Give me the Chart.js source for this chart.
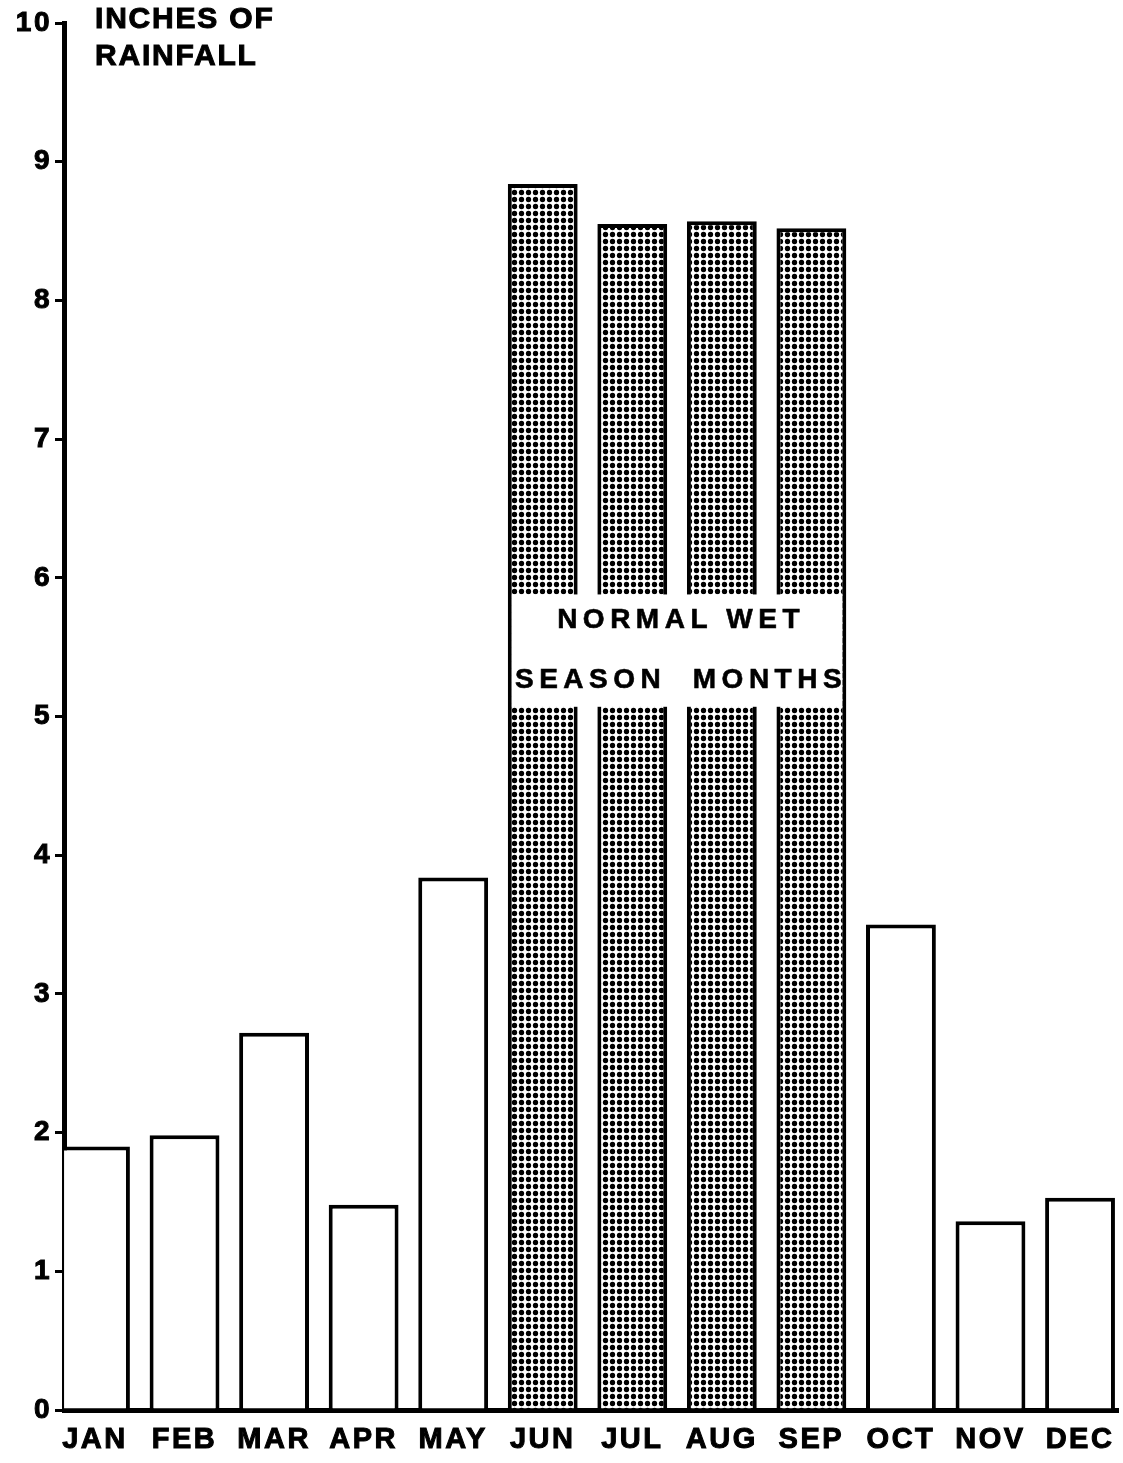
<!DOCTYPE html>
<html>
<head>
<meta charset="utf-8">
<script src="https://cdn.jsdelivr.net/npm/chart.js@4/dist/chart.umd.min.js"></script>
<style>
  html, body { margin: 0; padding: 0; background: #fff; }
  #wrap { width: 1123px; height: 1463px; }
</style>
</head>
<body>
<div id="wrap"><canvas id="c" width="1123" height="1463"></canvas></div>
<script>
const months = ['JAN','FEB','MAR','APR','MAY','JUN','JUL','AUG','SEP','OCT','NOV','DEC'];
const rainfall = [1.90, 1.98, 2.72, 1.48, 3.84, 8.84, 8.55, 8.57, 8.52, 3.50, 1.36, 1.53];
const wetSeason = [false, false, false, false, false, true, true, true, true, false, false, false];
const yTickValues = [0,1,2,3,4,5,6,7,8,9,10];
const axisTitle = ['INCHES OF', 'RAINFALL'];
const noteLines = ['NORMAL WET', 'SEASON  MONTHS'];
const noteRange = [5.07, 5.88];

const canvas = document.getElementById('c');
const ctx = canvas.getContext('2d');
const FONT = '"Liberation Sans", Arial, Helvetica, sans-serif';

function makeDots() {
  const t = document.createElement('canvas');
  t.width = 7; t.height = 7;
  const g = t.getContext('2d');
  g.fillStyle = '#fff'; g.fillRect(0, 0, 7, 7);
  g.fillStyle = '#000';
  g.beginPath(); g.arc(3.5, 3.5, 2.65, 0, Math.PI * 2); g.fill();
  return ctx.createPattern(t, 'repeat');
}
const dots = makeDots();

const points = months.map((m, i) => ({ x: i, y: rainfall[i] }));

const spacing = {
  id: 'spacing',
  beforeLayout(chart) { chart.ctx.letterSpacing = '2.5px'; },
  beforeDraw(chart) { chart.ctx.letterSpacing = '2.5px'; }
};

function heavyText(c, s, x, y) {
  c.fillText(s, x, y);
  c.strokeText(s, x, y);
}

const annotate = {
  id: 'annotate',
  afterDatasetsDraw(chart) {
    const c = chart.ctx;
    const ys = chart.scales.y;
    const meta = chart.getDatasetMeta(0);
    const idx = wetSeason.map((w, i) => w ? i : -1).filter(i => i >= 0);
    const first = meta.data[idx[0]], last = meta.data[idx[idx.length - 1]];
    const bw = 4;
    const x0 = first.x - first.width / 2 + bw;
    const x1 = last.x + last.width / 2 - bw;
    const yTop = ys.getPixelForValue(noteRange[1]);
    const yBot = ys.getPixelForValue(noteRange[0]);
    c.save();
    c.fillStyle = '#fff';
    c.fillRect(x0, yTop, x1 - x0, yBot - yTop);
    c.fillStyle = '#000';
    c.strokeStyle = '#000';
    c.lineWidth = 0.6;
    c.font = 'bold 28px ' + FONT;
    c.textAlign = 'center';
    c.textBaseline = 'middle';
    c.letterSpacing = '5.5px';
    const cx = (x0 + x1) / 2 + 4;
    heavyText(c, noteLines[0], cx, yTop + (yBot - yTop) * 0.23);
    heavyText(c, noteLines[1], cx, yTop + (yBot - yTop) * 0.76);
    c.restore();
  },
  afterDraw(chart) {
    const c = chart.ctx;
    const a = chart.chartArea;
    c.save();
    c.fillStyle = '#000';
    c.strokeStyle = '#000';
    c.lineWidth = 1;
    c.font = 'bold 30px ' + FONT;
    c.letterSpacing = '1.8px';
    c.textAlign = 'left';
    c.textBaseline = 'top';
    heavyText(c, axisTitle[0], a.left + 31, a.top - 18);
    heavyText(c, axisTitle[1], a.left + 31, a.top + 19);
    c.restore();
  }
};

new Chart(canvas, {
  type: 'bar',
  data: {
    datasets: [{
      data: points,
      backgroundColor: wetSeason.map(w => w ? dots : '#fff'),
      borderColor: '#000',
      borderWidth: 4,
      borderSkipped: 'bottom',
      barPercentage: 0.78,
      categoryPercentage: 1.0
    }]
  },
  options: {
    responsive: false,
    animation: false,
    devicePixelRatio: 1,
    layout: { padding: { top: 23, right: 5, left: 0, bottom: 0 } },
    plugins: { legend: { display: false }, tooltip: { enabled: false }, title: { display: false } },
    scales: {
      x: {
        type: 'linear',
        offset: false,
        min: -0.346,
        max: 11.424,
        afterFit(s) { s.height = 53; s.paddingLeft = 0; s.paddingRight = 0; },
        grid: { display: false, drawTicks: false },
        border: { display: true, color: '#000', width: 5 },
        ticks: {
          stepSize: 1,
          includeBounds: false,
          autoSkip: false,
          maxRotation: 0,
          padding: 13,
          color: '#000',
          textStrokeColor: '#000',
          textStrokeWidth: 1,
          font: { family: FONT, size: 29, weight: 'bold' },
          callback: v => months[v] !== undefined && Number.isInteger(v) ? months[v] : ''
        }
      },
      y: {
        min: yTickValues[0],
        max: yTickValues[yTickValues.length - 1],
        afterFit(s) { s.width = 64; },
        afterBuildTicks(s) { s.ticks = yTickValues.map(v => ({ value: v })); },
        grid: { display: true, drawOnChartArea: false, drawTicks: true, tickLength: 9, color: '#000', lineWidth: 3 },
        border: { display: true, color: '#000', width: 5 },
        ticks: {
          padding: 3,
          color: '#000',
          textStrokeColor: '#000',
          textStrokeWidth: 1,
          font: { family: FONT, size: 28, weight: 'bold' }
        }
      }
    }
  },
  plugins: [spacing, annotate]
});
</script>
</body>
</html>
